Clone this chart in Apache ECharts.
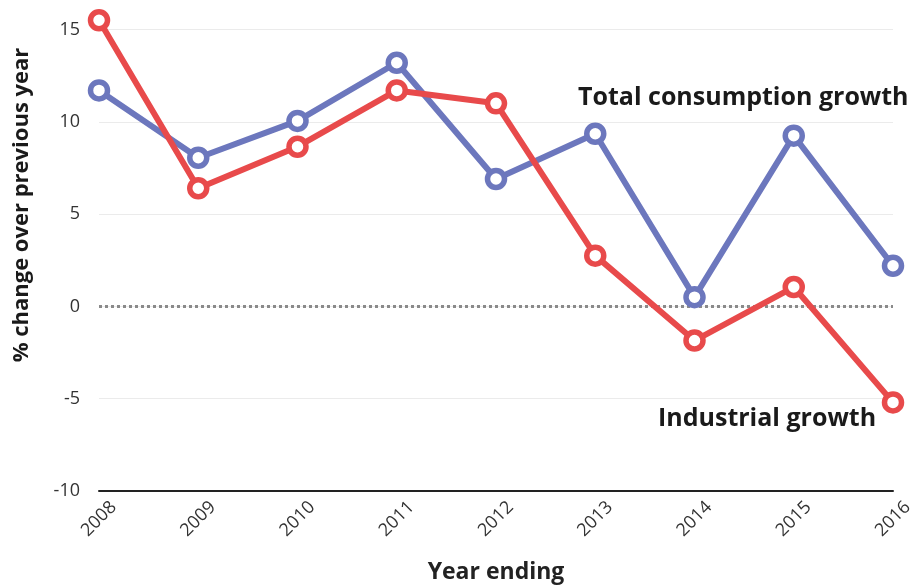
<!DOCTYPE html>
<html><head><meta charset="utf-8">
<script src="https://cdn.jsdelivr.net/npm/echarts@6/dist/echarts.min.js"></script>
<style>html,body{margin:0;padding:0;background:#fff}#c{width:912px;height:585px}</style>
</head><body><div id="c"></div>
<script>
const years = ['2008','2009','2010','2011','2012','2013','2014','2015','2016'];
const totalGrowth = [11.7, 8.05, 10.05, 13.2, 6.9, 9.35, 0.5, 9.25, 2.2];
const industrialGrowth = [15.5, 6.4, 8.65, 11.7, 11.0, 2.75, -1.85, 1.05, -5.2];
const yTicks = {min: -10, max: 15, interval: 5};

const FONT = '"Open Sans", sans-serif';
const blue = '#6c77bd', red = '#e84a4b';
const chart = echarts.init(document.getElementById('c'));
function lineSeries(name, data, color, extra) {
  return Object.assign({
    name, type: 'line', data, clip: false,
    lineStyle: {color, width: 6},
    symbol: 'circle', symbolSize: 17,
    itemStyle: {color: '#fff', borderColor: color, borderWidth: 5.5},
    z: 3
  }, extra || {});
}
chart.setOption({
  animation: false,
  grid: {left: 99, right: 19, top: 29.5, bottom: 94, outerBoundsMode: 'none', containLabel: false},
  xAxis: {
    type: 'category', data: years, boundaryGap: false,
    axisLine: {onZero: false, lineStyle: {color: '#222', width: 2}},
    axisTick: {show: false},
    axisLabel: {rotate: 45, align: 'center', verticalAlign: 'middle', color: '#333', fontSize: 18, fontFamily: FONT, margin: 28},
    name: 'Year ending', nameLocation: 'middle', nameGap: 70,
    nameTextStyle: {fontSize: 23, fontWeight: 'bold', color: '#222', fontFamily: FONT}
  },
  yAxis: {
    type: 'value', min: yTicks.min, max: yTicks.max, interval: yTicks.interval,
    axisLine: {show: false}, axisTick: {show: false},
    axisLabel: {color: '#333', fontSize: 18, fontFamily: FONT, margin: 19},
    splitLine: {lineStyle: {color: '#ebebeb', width: 1}}
  },
  series: [
    lineSeries('Total consumption growth', totalGrowth, blue, {
      markLine: {
        silent: true, symbol: 'none', label: {show: false},
        lineStyle: {color: '#8a8a8a', width: 3, type: [3, 3], opacity: 1},
        emphasis: {disabled: true},
        data: [{yAxis: 0}], z: 1
      }
    }),
    lineSeries('Industrial growth', industrialGrowth, red)
  ],
  graphic: [
    {type: 'text', left: 578, top: 85, style: {text: 'Total consumption growth', font: 'bold 25px ' + FONT, fill: '#1a1a1a'}},
    {type: 'text', left: 658, top: 406, style: {text: 'Industrial growth', font: 'bold 25px ' + FONT, fill: '#1a1a1a'}},
    {type: 'text', x: 22, y: 205, rotation: Math.PI / 2,
      style: {text: '% change over previous year', font: 'bold 22px ' + FONT, fill: '#1a1a1a', align: 'center', verticalAlign: 'middle'}}
  ]
});
</script></body></html>
